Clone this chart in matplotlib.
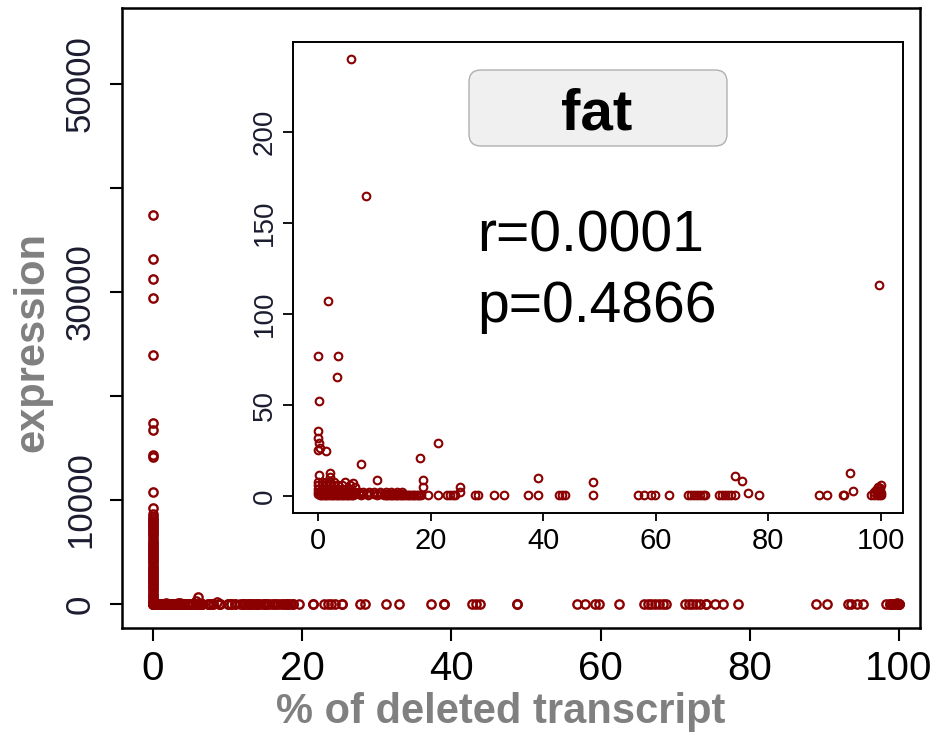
import matplotlib.pyplot as plt
from matplotlib.patches import FancyBboxPatch

plt.rcParams['font.family'] = ['Liberation Sans', 'DejaVu Sans']

# genes with 0 % deleted transcript and high expression (only visible in the main panel)
col_expr = [37400, 33200, 31200, 29400, 23900, 17400, 16700, 14300, 14100, 10800,
            9200, 8700, 8400, 8200, 8000, 7800, 7600, 7400, 7200, 7000, 6800, 6600,
            6300, 6100, 5900, 5700, 5500, 5300, 5100, 4900, 4700, 4500, 4300, 4100,
            3900, 3700, 3500, 3300, 3100, 2900, 2700, 2500, 2300, 2100, 1900, 1700,
            1500, 1300, 1100, 900, 700, 500, 300]
bump_pct = [6]
bump_expr = [700]

# low expression outliers
pct_out = [5.8, 8.6, 1.7, 0, 3.6, 3.3, 0.1, 99.7,
           0, 0, 0.2, 0, 0.4, 1.4, 7.6, 21.4, 18.1,
           0.1, 2.1, 2.1, 10.4, 4.8, 6.2, 6.5, 18.7, 18.7, 25.3, 25.3,
           39, 48.8, 74.1, 75.3, 76.4, 94.4, 95.1,
           99.2, 99.6, 100, 99.8, 98.8, 100, 99.4, 99.9, 99.1]
expr_out = [240, 165, 107, 77, 77, 65.5, 52, 116,
            36, 32, 29, 25.5, 26.5, 24.5, 17.4, 29, 20.7,
            11.5, 12.5, 10.6, 8.8, 8, 7, 5, 8.8, 5.2, 5, 2.5,
            9.7, 7.5, 11, 8.4, 1.8, 12.8, 2.9,
            2, 4, 6, 3, 2, 1.5, 5, 4.5, 3.5]

# genes with (almost) zero expression along the bottom
base_pct = [0.3, 0.6, 0.9, 1.2, 1.5, 1.8, 2.1, 2.4, 2.7, 3.0, 3.3, 3.6, 3.9, 4.2,
            4.5, 4.8, 5.1, 5.4, 5.7, 6.0, 6.3, 7.6, 8.8, 10.5,
            11.7, 12.0, 12.3, 12.6, 12.9, 13.2, 13.5, 13.8, 14.1, 14.4, 14.7, 15.0,
            15.3, 15.6, 15.9, 16.2, 16.5, 16.8, 17.1, 17.4, 17.7, 18.0, 18.3,
            19.6, 21.4, 22.9, 23.4, 23.9, 24.4, 27.8, 28.4, 31.2, 33.0,
            37.3, 39.0, 42.8, 43.3, 43.8, 48.8, 56.8, 57.9, 59.2, 59.8, 62.4,
            65.8, 66.3, 66.8, 67.3, 67.8, 68.3, 68.8, 71.3, 71.8, 72.3, 72.8,
            73.3, 74.1, 78.4, 88.9, 90.4, 93.2, 93.5, 98.3, 98.8, 99.2, 99.6, 100]

# dense cloud of low % / low expression genes
pct_dense = [0, 0, 0, 0, 0, 0.7, 0.7, 0.7, 0.7, 0.7, 1.4, 1.4, 1.4, 1.4, 1.4,
             2.1, 2.1, 2.1, 2.1, 2.1, 2.8, 2.8, 2.8, 2.8, 2.8,
             3.5, 3.5, 3.5, 3.5, 4.2, 4.2, 4.2, 4.2, 5, 5, 5, 5.7, 5.7, 5.7, 5.7,
             6.5, 6.5, 7.3, 7.3, 8, 8, 9, 9, 10, 10, 11, 11, 12, 12,
             13, 13, 14, 14, 15, 15]
expr_dense = [1, 2.5, 4, 6, 8, 1, 2.5, 4, 6, 8, 1, 2.5, 4, 6, 8,
              1, 2.5, 4, 6, 8, 1, 2.5, 4, 6, 8,
              1, 2.5, 4, 6, 1, 2.5, 4, 6, 1, 2.5, 4, 1, 2.5, 4, 6,
              1, 2.5, 1, 2.5, 1, 2.5, 1, 2, 1, 2.5, 1, 2, 1, 2,
              1, 2, 1, 2, 1, 2]

pct = [0] * len(col_expr) + bump_pct + pct_out + base_pct + pct_dense
expr = col_expr + bump_expr + expr_out + [0.8] * len(base_pct) + expr_dense

red = '#8b0000'
ylab_col = '#1c1c30'
W, H = 935, 733

fig = plt.figure(figsize=(W / 100, H / 100), dpi=100)

# main panel
ax = fig.add_axes([122 / W, 1 - 628 / H, 798 / W, 620 / H])
ax.plot(pct, expr, 'o', ms=6, mfc='none', mec=red, mew=1.7)
ax.set_xlim(-4.16, 102.8)
ax.set_ylim(-2308, 57300)
ax.set_xticks([0, 20, 40, 60, 80, 100])
ax.set_yticks([0, 10000, 20000, 30000, 40000, 50000])
ax.set_yticklabels(['0', '10000', '', '30000', '', '50000'])
ax.tick_params(axis='x', labelsize=29, length=9, width=1.5, pad=7, labelcolor='black')
ax.tick_params(axis='y', labelsize=25, length=9, width=1.5, pad=9, labelrotation=90,
               labelcolor=ylab_col)
for lab in ax.get_yticklabels():
    lab.set_va('center')
for s in ax.spines.values():
    s.set_linewidth(1.8)

# inset panel
ins = fig.add_axes([293 / W, 1 - 513 / H, 610 / W, 471 / H])
ins.plot(pct, expr, 'o', ms=5.5, mfc='none', mec=red, mew=1.5)
ins.set_xlim(-4.44, 103.9)
ins.set_ylim(-9.3, 249.5)
ins.set_xticks([0, 20, 40, 60, 80, 100])
ins.set_yticks([0, 50, 100, 150, 200])
ins.tick_params(axis='x', labelsize=21, length=6, width=1.3, pad=4, labelcolor='black')
ins.tick_params(axis='y', labelsize=20, length=7, width=1.3, pad=4, labelrotation=90,
                labelcolor=ylab_col)
for lab in ins.get_yticklabels():
    lab.set_va('center')
for s in ins.spines.values():
    s.set_linewidth(1.4)

# title box
box = FancyBboxPatch((4.69, (H - 146) / 100), 2.58, 0.76,
                     boxstyle='round,pad=0,rounding_size=0.12',
                     transform=fig.dpi_scale_trans, fc='#f0f0f0', ec='#b0b0b0', lw=1)
fig.add_artist(box)
fig.text(597 / W, 1 - 130 / H, 'fat', fontsize=42, fontweight='bold',
         ha='center', va='baseline')

fig.text(477 / W, 1 - 252 / H, 'r=0.0001', fontsize=41, ha='left', va='baseline')
fig.text(477 / W, 1 - 322 / H, 'p=0.4866', fontsize=41, ha='left', va='baseline')

fig.text(501 / W, 1 - 723 / H, '% of deleted transcript', fontsize=30,
         fontweight='bold', color='#808080', ha='center', va='baseline')
fig.text(43 / W, 1 - 342 / H, 'expression', fontsize=30, fontweight='bold',
         color='#808080', rotation=90, rotation_mode='anchor',
         ha='center', va='baseline')

fig.savefig('out.png', dpi=100)
